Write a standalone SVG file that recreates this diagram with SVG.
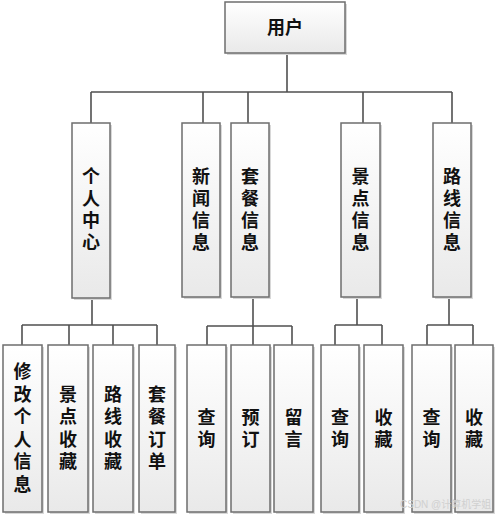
<svg xmlns="http://www.w3.org/2000/svg" width="500" height="518" viewBox="0 0 500 518">
<defs>
<linearGradient id="g" x1="0" y1="0" x2="0" y2="1">
<stop offset="0" stop-color="#ffffff"/>
<stop offset="1" stop-color="#e9e9e9"/>
</linearGradient>
</defs>
<style>
.box{fill:url(#g);stroke:#6e6e6e;stroke-width:1.5}
.sh{fill:#d8d8d8}
.t{font-family:"Noto Sans CJK SC","Noto Sans CJK JP",sans-serif;font-size:18px;font-weight:bold;fill:#111;text-anchor:middle}
.v{writing-mode:vertical-rl;text-orientation:upright;letter-spacing:4px}
.v2{writing-mode:vertical-rl;text-orientation:upright;letter-spacing:4.5px}
.c{fill:none;stroke:#505050;stroke-width:1.6}
.wm{font-family:"Liberation Sans","Noto Sans CJK SC",sans-serif;font-size:10px;fill:#d0d0d0}
</style>
<rect width="500" height="518" fill="#ffffff"/>
<g id="connectors">
<path class="c" d="M287 53V92M91 92H452M91 92V123M203 92V123M248 92V123M363 92V123M452 92V123"/>
<path class="c" d="M92 298V325M22 325H157M22 325V345M69 325V345M113 325V345M157 325V345"/>
<path class="c" d="M253 297V326M207 326H292M207 326V345M253 326V345M292 326V345"/>
<path class="c" d="M357 297V325M335 325H382M335 325V345M382 325V345"/>
<path class="c" d="M449 297V325M427 325H473M427 325V345M473 325V345"/>
</g>
<g id="user"><rect class="sh" x="227" y="4" width="120" height="51"/><rect class="box" x="225" y="2" width="120" height="51"/><text class="t" x="285" y="34">用户</text></g>
<g id="n-grzx"><rect class="sh" x="74" y="125" width="38" height="175"/><rect class="box" x="72" y="123" width="38" height="175"/><text class="t v" x="91" y="211">个人中心</text></g>
<g id="n-xwxx"><rect class="sh" x="184" y="125" width="38" height="174"/><rect class="box" x="182" y="123" width="38" height="174"/><text class="t v" x="201" y="211">新闻信息</text></g>
<g id="n-tcxx"><rect class="sh" x="233" y="125" width="38" height="174"/><rect class="box" x="231" y="123" width="38" height="174"/><text class="t v" x="250" y="211">套餐信息</text></g>
<g id="n-jdxx"><rect class="sh" x="343" y="125" width="39" height="174"/><rect class="box" x="341" y="123" width="39" height="174"/><text class="t v" x="360.5" y="211">景点信息</text></g>
<g id="n-lxxx"><rect class="sh" x="435" y="125" width="38" height="174"/><rect class="box" x="433" y="123" width="38" height="174"/><text class="t v" x="452" y="211">路线信息</text></g>
<g id="n-xggrxx"><rect class="sh" x="5" y="347" width="39" height="167"/><rect class="box" x="3" y="345" width="39" height="167"/><text class="t v2" x="22.5" y="430">修改个人信息</text></g>
<g id="n-jdsc"><rect class="sh" x="50" y="347" width="40" height="167"/><rect class="box" x="48" y="345" width="40" height="167"/><text class="t v2" x="68" y="430">景点收藏</text></g>
<g id="n-lxsc"><rect class="sh" x="95" y="347" width="40" height="167"/><rect class="box" x="93" y="345" width="40" height="167"/><text class="t v2" x="113" y="430">路线收藏</text></g>
<g id="n-tcdd"><rect class="sh" x="141" y="347" width="36" height="167"/><rect class="box" x="139" y="345" width="36" height="167"/><text class="t v2" x="157" y="430">套餐订单</text></g>
<g id="n-tc-cx"><rect class="sh" x="189" y="347" width="39" height="167"/><rect class="box" x="187" y="345" width="39" height="167"/><text class="t v" x="206.5" y="430">查询</text></g>
<g id="n-tc-yd"><rect class="sh" x="233" y="347" width="39" height="167"/><rect class="box" x="231" y="345" width="39" height="167"/><text class="t v" x="250.5" y="430">预订</text></g>
<g id="n-tc-ly"><rect class="sh" x="276" y="347" width="39" height="167"/><rect class="box" x="274" y="345" width="39" height="167"/><text class="t v" x="293.5" y="430">留言</text></g>
<g id="n-jd-cx"><rect class="sh" x="323" y="347" width="38" height="167"/><rect class="box" x="321" y="345" width="38" height="167"/><text class="t v" x="340" y="430">查询</text></g>
<g id="n-jd-sc"><rect class="sh" x="366" y="347" width="39" height="167"/><rect class="box" x="364" y="345" width="39" height="167"/><text class="t v" x="383.5" y="430">收藏</text></g>
<g id="n-lx-cx"><rect class="sh" x="414" y="347" width="39" height="167"/><rect class="box" x="412" y="345" width="39" height="167"/><text class="t v" x="431.5" y="430">查询</text></g>
<g id="n-lx-sc"><rect class="sh" x="457" y="347" width="38" height="167"/><rect class="box" x="455" y="345" width="38" height="167"/><text class="t v" x="474" y="430">收藏</text></g>
<text class="wm" x="400" y="508">CSDN @计算机学姐</text>
</svg>
